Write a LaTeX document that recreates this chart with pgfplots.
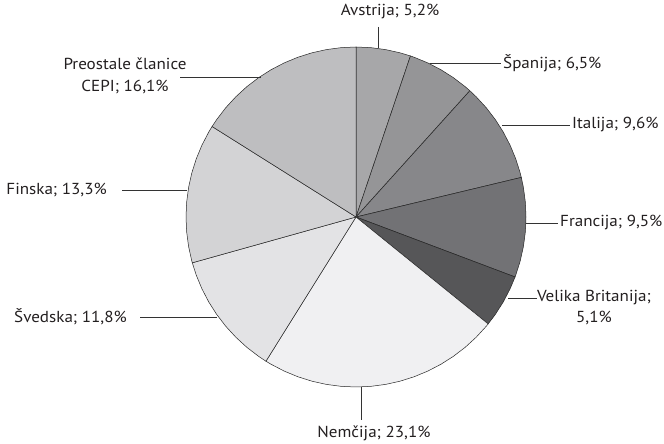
\documentclass[border=0pt]{standalone}
\usepackage{pgfplots}
\pgfplotsset{compat=1.18}
\usepackage{fontspec}
\setmainfont{PT Sans}[FakeStretch=1.07]
\definecolor{cAvs}{HTML}{A7A7A9}
\definecolor{cSpa}{HTML}{959597}
\definecolor{cIta}{HTML}{87878A}
\definecolor{cFra}{HTML}{727275}
\definecolor{cVB}{HTML}{565658}
\definecolor{cNem}{HTML}{F0F0F2}
\definecolor{cSve}{HTML}{E3E3E5}
\definecolor{cFin}{HTML}{D3D3D5}
\definecolor{cPre}{HTML}{BEBEC0}
\definecolor{txt}{HTML}{231F20}
\begin{document}
\begin{tikzpicture}
\path[use as bounding box] (0,0) rectangle (664bp,444bp);
% Shares (%): Avstrija 5,2; Spanija 6,5; Italija 9,6; Francija 9,5; Velika Britanija 5,1;
% Nemcija 23,1; Svedska 11,8; Finska 13,3; Preostale clanice CEPI 16,1
% Wedge boundary angles (polar, degrees) = 90 - cumulative share * 360/100.2
\begin{axis}[
  at={(0,0)}, anchor=south west,
  scale only axis, width=664bp, height=444bp,
  xmin=-356, xmax=308, ymin=-227, ymax=217,
  hide axis, clip=false,
  every axis plot/.append style={data cs=polar, draw=black!85, line width=0.5pt, mark=none},
]
\addplot[fill=cAvs] coordinates {(0,0) (90,170) (85,170) (80,170) (75,170) (71.32,170) (0,0)} -- cycle;
\addplot[fill=cSpa] coordinates {(0,0) (71.32,170) (70,170) (65,170) (60,170) (55,170) (50,170) (47.96,170) (0,0)} -- cycle;
\addplot[fill=cIta] coordinates {(0,0) (47.96,170) (45,170) (40,170) (35,170) (30,170) (25,170) (20,170) (15,170) (13.47,170) (0,0)} -- cycle;
\addplot[fill=cFra] coordinates {(0,0) (13.47,170) (10,170) (5,170) (0,170) (-5,170) (-10,170) (-15,170) (-20,170) (-20.66,170) (0,0)} -- cycle;
\addplot[fill=cVB] coordinates {(0,0) (-20.66,170) (-25,170) (-30,170) (-35,170) (-38.98,170) (0,0)} -- cycle;
\addplot[fill=cNem] coordinates {(0,0) (-38.98,170) (-40,170) (-45,170) (-50,170) (-55,170) (-60,170) (-65,170) (-70,170) (-75,170) (-80,170) (-85,170) (-90,170) (-95,170) (-100,170) (-105,170) (-110,170) (-115,170) (-120,170) (-121.98,170) (0,0)} -- cycle;
\addplot[fill=cSve] coordinates {(0,0) (-121.98,170) (-125,170) (-130,170) (-135,170) (-140,170) (-145,170) (-150,170) (-155,170) (-160,170) (-164.37,170) (0,0)} -- cycle;
\addplot[fill=cFin] coordinates {(0,0) (-164.37,170) (-165,170) (-170,170) (-175,170) (-180,170) (-185,170) (-190,170) (-195,170) (-200,170) (-205,170) (-210,170) (-212.16,170) (0,0)} -- cycle;
\addplot[fill=cPre] coordinates {(0,0) (-212.16,170) (-215,170) (-220,170) (-225,170) (-230,170) (-235,170) (-240,170) (-245,170) (-250,170) (-255,170) (-260,170) (-265,170) (-270,170) (0,0)} -- cycle;

% leader lines
\draw[black!80, line width=0.6pt] (axis cs:22,190) -- (axis cs:22,168.6);
\draw[black!80, line width=0.6pt] (axis cs:74,154) -- (axis cs:145,154);
\draw[black!80, line width=0.6pt] (axis cs:146,92) -- (axis cs:214,92);
\draw[black!80, line width=0.6pt] (axis cs:170,-6) -- (axis cs:202,-6);
\draw[black!80, line width=0.6pt] (axis cs:152,-81) -- (axis cs:181,-81);
\draw[black!80, line width=0.6pt] (axis cs:5,-170) -- (axis cs:5,-203);
\draw[black!80, line width=0.6pt] (axis cs:-216,-100) -- (axis cs:-139,-100);
\draw[black!80, line width=0.6pt] (axis cs:-234,27) -- (axis cs:-169,27);
\draw[black!80, line width=0.6pt] (axis cs:-176,140) -- (axis cs:-95,140);

% labels
\begin{scope}[every node/.style={text=txt, inner sep=0pt, font=\fontsize{16}{21.5}\selectfont}]
\node[anchor=center] at (axis cs:34,205) {Avstrija; 5,2\%};
\node[anchor=west] at (axis cs:147,154) {Španija; 6,5\%};
\node[anchor=west] at (axis cs:216,92) {Italija; 9,6\%};
\node[anchor=west] at (axis cs:204,-6) {Francija; 9,5\%};
\node[anchor=north, align=center] at (axis cs:238,-73) {Velika Britanija;\\5,1\%};
\node[anchor=center] at (axis cs:18,-216) {Nemčija; 23,1\%};
\node[anchor=east] at (axis cs:-229,-100) {Švedska; 11,8\%};
\node[anchor=east] at (axis cs:-249,27) {Finska; 13,3\%};
\node[anchor=center, align=center] at (axis cs:-231,141) {Preostale članice\\CEPI; 16,1\%};
\end{scope}
\end{axis}
\end{tikzpicture}
\end{document}
